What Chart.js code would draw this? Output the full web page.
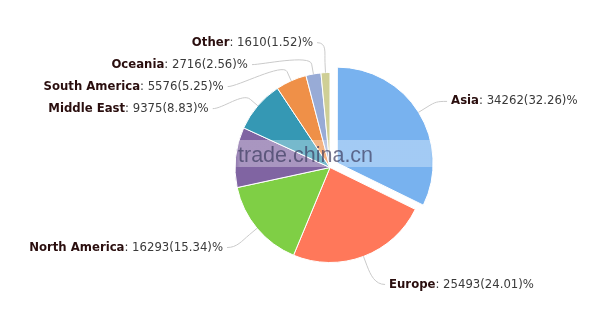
<!DOCTYPE html>
<html>
<head>
<meta charset="utf-8">
<script src="https://cdn.jsdelivr.net/npm/chart.js@4.4.0/dist/chart.umd.min.js"></script>
<style>
  html, body { margin: 0; padding: 0; background: #fff; }
  #wrap { width: 610px; height: 323px; }
</style>
</head>
<body>
<div id="wrap"><canvas id="chart" width="610" height="323"></canvas></div>
<script>
// visitors by region (purple slice has no label in the picture)
const regions = ['Asia', 'Europe', 'North America', 'Africa', 'Middle East', 'South America', 'Oceania', 'Other'];
const visitors = [34262, 25493, 16293, 10870, 9375, 5576, 2716, 1610];
const hiddenLabels = ['Africa'];

const sliceColors = ['#78b2ef', '#ff785a', '#7fcf45', '#8064a2', '#3598b4', '#ef9048', '#98abd6', '#cfcf96'];
const total = visitors.reduce((a, b) => a + b, 0);

const labelDistance = 30;
const labelGap = 22;
const labelPad = { left: 11, right: 15 };
const fontSize = 11.7;

// draws highcharts-like labels with soft connectors
const pieLabels = {
  id: 'pieLabels',
  afterDatasetsDraw(chart) {
    const ctx = chart.ctx;
    const meta = chart.getDatasetMeta(0);
    const items = [];
    meta.data.forEach((arc, i) => {
      if (hiddenLabels.includes(regions[i])) return;
      const p = arc.getProps(['x', 'y', 'startAngle', 'endAngle', 'outerRadius', 'circumference'], true);
      const mid = (p.startAngle + p.endAngle) / 2;
      const cos = Math.cos(mid), sin = Math.sin(mid);
      // same shift ArcElement uses for offset
      const off = (arc.options.offset || 0) / 4;
      const fix = 1 - Math.sin(Math.min(Math.PI, p.circumference));
      const shift = off * (1 + fix);
      items.push({
        i, cx: p.x, cy: p.y, r: p.outerRadius, cos, sin,
        ex: p.x + cos * shift, ey: p.y + sin * shift,
        side: cos < 0 ? -1 : 1,
        y: p.y + sin * (p.outerRadius + labelDistance)
      });
    });

    [-1, 1].forEach(side => {
      const list = items.filter(it => it.side === side).sort((a, b) => a.y - b.y);
      for (let j = 1; j < list.length; j++) {
        if (list[j].y < list[j - 1].y + labelGap) list[j].y = list[j - 1].y + labelGap;
      }
    });

    ctx.save();
    ctx.textBaseline = 'middle';
    items.forEach(it => {
      const R = it.r + labelDistance;
      const dy = it.y - it.cy;
      const dx = Math.sqrt(Math.max(0, R * R - dy * dy));
      let edge = it.cx + it.side * (dx + (it.side < 0 ? labelPad.left : labelPad.right));

      const name = regions[it.i];
      const rest = ': ' + visitors[it.i] + '(' + (visitors[it.i] / total * 100).toFixed(2) + ')%';
      ctx.font = 'bold ' + fontSize + 'px "DejaVu Sans"';
      const w1 = ctx.measureText(name).width;
      ctx.font = fontSize + 'px "DejaVu Sans"';
      const w2 = ctx.measureText(rest).width;
      const w = w1 + w2;
      if (it.side < 0 && edge - w < 28) edge = 28 + w;

      // connector
      const sx = edge - it.side * 4;
      const p2x = it.ex + it.cos * (it.r + 10), p2y = it.ey + it.sin * (it.r + 10);
      const c2x = it.ex + it.cos * (it.r + 20), c2y = it.ey + it.sin * (it.r + 20);
      const p4x = it.ex + it.cos * it.r, p4y = it.ey + it.sin * it.r;
      ctx.beginPath();
      ctx.moveTo(sx, it.y);
      ctx.bezierCurveTo(sx - it.side * 10, it.y, c2x, c2y, p2x, p2y);
      ctx.lineTo(p4x, p4y);
      ctx.strokeStyle = '#cacaca';
      ctx.lineWidth = 1;
      ctx.stroke();

      const x0 = it.side < 0 ? edge - w : edge;
      ctx.textAlign = 'left';
      ctx.font = 'bold ' + fontSize + 'px "DejaVu Sans"';
      ctx.fillStyle = '#2a0e0e';
      ctx.fillText(name, x0, it.y);
      ctx.font = fontSize + 'px "DejaVu Sans"';
      ctx.fillStyle = '#3a3a3a';
      ctx.fillText(rest, x0 + w1, it.y);
    });
    ctx.restore();
  },
  afterDraw(chart) {
    // site watermark over the pie
    const ctx = chart.ctx;
    ctx.save();
    const g = ctx.createLinearGradient(232, 0, 438, 0);
    g.addColorStop(0, 'rgba(255,255,255,0)');
    g.addColorStop(0.04, 'rgba(255,255,255,0.32)');
    g.addColorStop(0.96, 'rgba(255,255,255,0.32)');
    g.addColorStop(1, 'rgba(255,255,255,0)');
    ctx.fillStyle = g;
    ctx.fillRect(232, 140, 206, 27);
    ctx.font = '21.5px "Liberation Sans"';
    ctx.textBaseline = 'alphabetic';
    ctx.fillStyle = 'rgba(60,60,95,0.7)';
    ctx.fillText('trade.china.cn', 238, 162);
    ctx.restore();
  }
};

const ctx = document.getElementById('chart').getContext('2d');
new Chart(ctx, {
  type: 'pie',
  data: {
    labels: regions,
    datasets: [{
      data: visitors,
      backgroundColor: sliceColors,
      borderColor: '#ffffff',
      borderWidth: 1,
      offset: [34, 0, 0, 0, 0, 0, 0, 0],
      hoverOffset: 0
    }]
  },
  options: {
    responsive: false,
    animation: false,
    events: [],
    layout: { padding: { top: 55, bottom: 43, left: 150, right: 100 } },
    plugins: {
      legend: { display: false },
      tooltip: { enabled: false }
    }
  },
  plugins: [pieLabels]
});
</script>
</body>
</html>
